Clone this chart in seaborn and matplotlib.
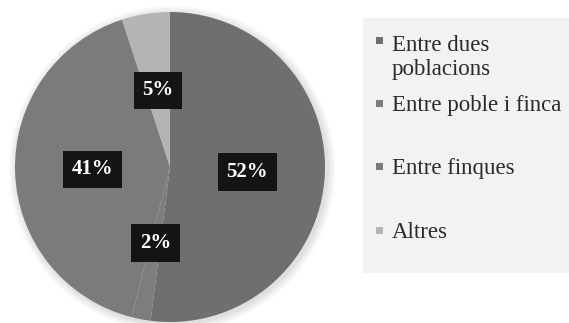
import matplotlib
matplotlib.use("Agg")
import matplotlib.pyplot as plt
from matplotlib.patches import Rectangle, Circle
import seaborn as sns

# ---- data ----
categories = ["Entre dues\npoblacions", "Entre poble i finca", "Entre finques", "Altres"]
values = [52, 2, 41, 5]
colors = ["#6f6f6f", "#7d7d7d", "#7b7b7b", "#b4b4b4"]

sns.set_style("white")
plt.rcParams["font.family"] = ["Liberation Serif", "DejaVu Serif"]

W, H = 569, 323
fig = plt.figure(figsize=(W / 100, H / 100), dpi=100)
ax = fig.add_axes([0, 0, 1, 1])

def py(y):
    return H - y

cx, cy, r = 170, 167, 155

# soft shadow around the pie
for i, a in enumerate([0.03, 0.03, 0.03, 0.04, 0.05]):
    ax.add_patch(Circle((cx + 2, py(cy) - 2), r + 8 - i * 1.6, color="#555555",
                        alpha=a, lw=0, zorder=0))

wedges, texts, autotexts = ax.pie(
    values, colors=colors, startangle=90, counterclock=False,
    center=(cx, py(cy)), radius=r, autopct="%1.0f%%", pctdistance=0.5,
    wedgeprops=dict(linewidth=0),
    textprops=dict(color="white", fontsize=15, fontweight="bold"),
    frame=True,
)
ax.set_xlim(0, W)
ax.set_ylim(0, H)
ax.set_aspect("auto")
ax.axis("off")
for t in autotexts:
    t.set_bbox(dict(boxstyle="square,pad=0.42", facecolor="#141414",
                    edgecolor="none"))

# legend panel
ax.add_patch(Rectangle((363, py(273)), W - 363 + 5, 273 - 18,
                       facecolor="#f1f2f2", edgecolor="none", zorder=0.5))
centers = [40.5, 103.5, 166.5, 230]
line_h = 26.5
for lab, col, yc in zip(categories, colors, centers):
    ax.add_patch(Rectangle((376, py(yc) - 3.5), 7, 7, facecolor=col,
                           edgecolor="none", zorder=3))
    nlines = lab.count("\n")
    ax.text(392, py(yc + 7.5 + nlines * line_h), lab, fontsize=16.5,
            color="#2a2a2a", va="baseline", ha="left", zorder=3,
            linespacing=1.15)

fig.savefig("out.png", dpi=100, facecolor="white")
